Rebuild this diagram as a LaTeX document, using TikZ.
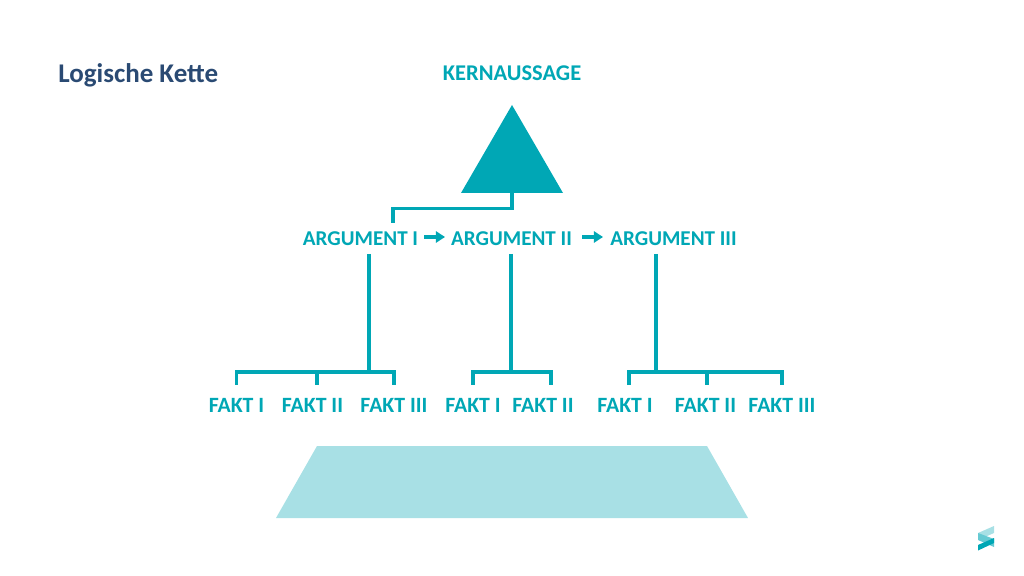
\documentclass[tikz,border=0pt]{standalone}
\usepackage{fontspec}
\setmainfont{Carlito}
\usetikzlibrary{arrows.meta}
\definecolor{kette}{HTML}{00A7B5}
\definecolor{kettelight}{HTML}{A8E0E5}
\definecolor{kettetitle}{HTML}{2A4A73}
\tikzset{
  link/.style={draw=kette, line width=2.2pt},
  arglabel/.style={text=kette, font=\fontsize{15}{18}\selectfont\bfseries, inner xsep=4pt, inner ysep=0pt, minimum height=.75cm},
  faktlabel/.style={text=kette, font=\fontsize{15.5}{18}\selectfont\bfseries, inner xsep=0pt, inner ysep=0pt, minimum height=1cm},
  tip/.style={-{Triangle[length=6.5pt,width=8pt]}},
}
\begin{document}
\begin{tikzpicture}[x=0.025cm, y=-0.025cm]
\useasboundingbox (0,0) rectangle (1024,576);
\node[text=kettetitle, font=\fontsize{19.2}{23}\selectfont\bfseries, anchor=west, inner sep=0pt] (TITLE) at (58,75.5) {Logische Kette};
\node[arglabel, font=\fontsize{16}{19}\selectfont\bfseries] (KERN) at (512,73) {KERNAUSSAGE};
% triangle
\fill[kette] (512,105) -- (563,193) -- (461,193) -- cycle;
\coordinate (TRI) at (512,193);
\node[arglabel] (ARG_1) at (360.5,238.5) {ARGUMENT I};
\node[arglabel] (ARG_2) at (511.5,238.5) {ARGUMENT II};
\node[arglabel] (ARG_3) at (673.5,238.5) {ARGUMENT III};
\draw[link] (TRI) -- (512,208.5) -| (393,223);
\draw[link, tip] (424,237) -- (445,237);
\draw[link, tip] (582,237) -- (603,237);
% first group
\node[faktlabel] (FAKT_1_1) at (236.5,405) {FAKT I};
\node[faktlabel] (FAKT_1_2) at (312.5,405) {FAKT II};
\node[faktlabel] (FAKT_1_3) at (394,405) {FAKT III};
\coordinate (B_1) at (369,372);
\coordinate (B_1_2) at (317,372);
\draw[link] (B_1 |- ARG_1.south) -- (B_1);
\draw[link] (FAKT_1_1.north) |- (B_1_2) -| (FAKT_1_3.north);
\draw[link] (B_1_2) -- (B_1_2 |- FAKT_1_2.north);
% second group
\node[faktlabel] (FAKT_2_1) at (473,405) {FAKT I};
\node[faktlabel] (FAKT_2_2) at (543,405) {FAKT II};
\coordinate (B_2) at (511,372);
\coordinate (B_2_2) at (551,385);
\draw[link] (B_2 |- ARG_2.south) -- (B_2);
\draw[link] (FAKT_2_1.north) |- (B_2) -| (B_2_2);
% third group
\node[faktlabel] (FAKT_3_1) at (625,405) {FAKT I};
\node[faktlabel] (FAKT_3_2) at (705.5,405) {FAKT II};
\node[faktlabel] (FAKT_3_3) at (782,405) {FAKT III};
\coordinate (B_3) at (656,372);
\coordinate (B_3_1) at (629,385);
\coordinate (B_3_2) at (707,372);
\draw[link] (B_3 |- ARG_3.south) -- (B_3);
\draw[link] (B_3_1) |- (B_3_2) -| (FAKT_3_3.north);
\draw[link] (B_3_2) -- (B_3_2 |- FAKT_3_2.north);
% base
\fill[kettelight] (317,446) -- (707,446) -- (748,518) -- (276,518) -- cycle;
% logo
\fill[kettelight] (978,533) -- (994,526) -- (994,533) -- (978,540) -- cycle;
\fill[kette!60] (978,533) -- (994,539) -- (994,547) -- (978,540) -- cycle;
\fill[kette] (978,545) -- (994,538) -- (994,543) -- (978,550.5) -- cycle;
\end{tikzpicture}
\end{document}
